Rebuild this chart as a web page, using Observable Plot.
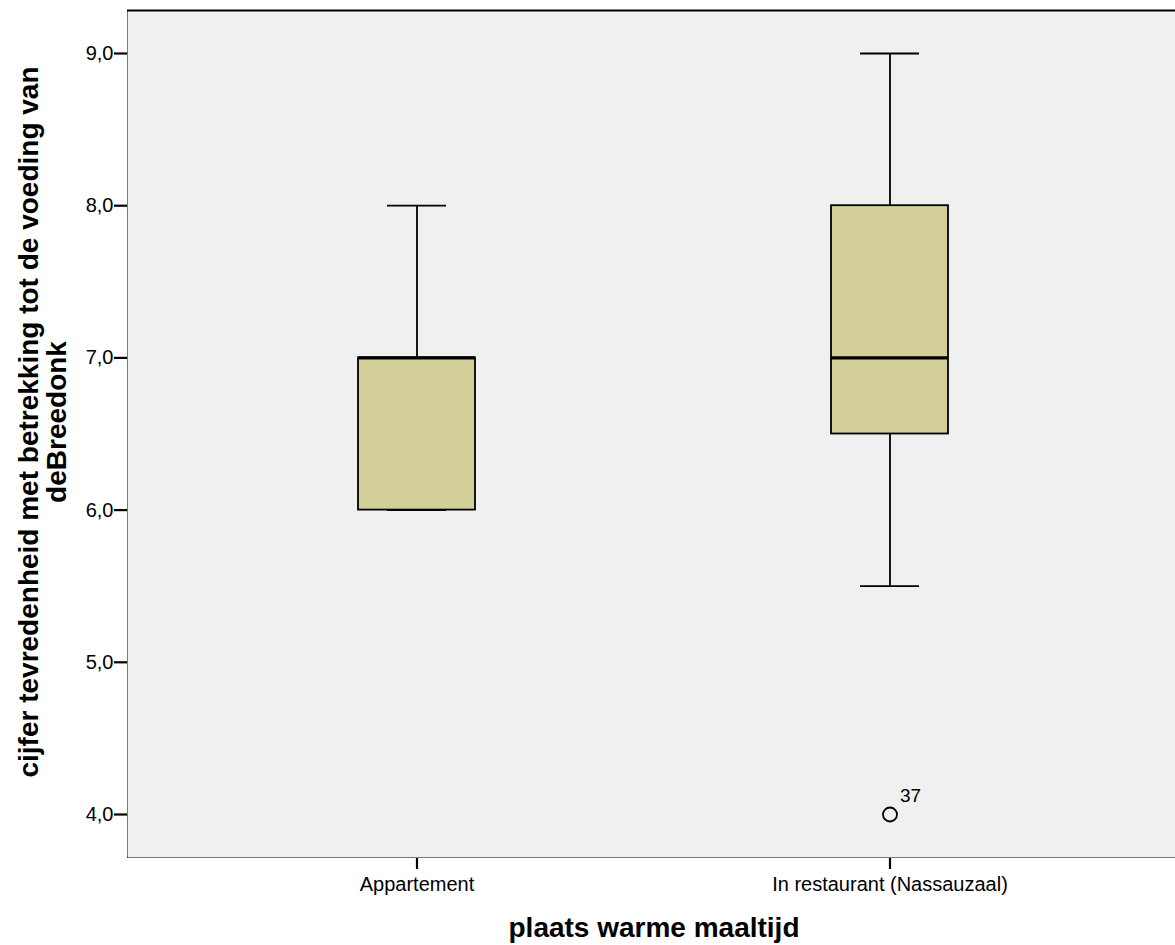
<!DOCTYPE html>
<html>
<head>
<meta charset="utf-8">
<script src="https://cdn.jsdelivr.net/npm/d3@7"></script>
<script src="https://cdn.jsdelivr.net/npm/@observablehq/plot@0.6"></script>
<style>
  html, body { margin: 0; padding: 0; background: #ffffff; }
  #chart svg { display: block; }
</style>
</head>
<body>
<div id="chart"></div>
<script>
// ---- data ----
const categories = ["Appartement", "In restaurant (Nassauzaal)"];
const whiskerLow  = [6.0, 5.5];
const quartile1   = [6.0, 6.5];
const medians     = [7.0, 7.0];
const quartile3   = [7.0, 8.0];
const whiskerHigh = [8.0, 9.0];
const outlierCategory = ["In restaurant (Nassauzaal)"];
const outlierValue    = [4.0];
const outlierLabel    = ["37"];
const yTicks = [4, 5, 6, 7, 8, 9];
const xTitle = "plaats warme maaltijd";
const yTitle = "cijfer tevredenheid met betrekking tot de voeding van\ndeBreedonk";

const boxes = categories.map((c, i) => ({
  cat: c, lo: whiskerLow[i], q1: quartile1[i], med: medians[i], q3: quartile3[i], hi: whiskerHigh[i]
}));
const outliers = outlierCategory.map((c, i) => ({cat: c, value: outlierValue[i], label: outlierLabel[i]}));

const fmt = d => d.toFixed(1).replace(".", ",");
const yMin = 3.7175, yMax = 9.2825;

const chart = Plot.plot({
  width: 1175,
  height: 945,
  marginLeft: 127,
  marginRight: -5,
  marginTop: 10,
  marginBottom: 88,
  style: {fontFamily: "'Liberation Sans', Arial, sans-serif", fontSize: "20px", color: "#000", background: "#fff"},
  x: {type: "band", domain: categories, paddingInner: 0.7526, paddingOuter: 0.4894, label: null,
      tickSize: 12, tickPadding: 7, line: true},
  y: {domain: [yMin, yMax], ticks: yTicks, tickFormat: fmt, tickSize: 13, tickPadding: 1, label: null, line: true},
  marks: [
    Plot.frame({fill: "#f0f0f0", stroke: null}),
    Plot.ruleY([yMax], {stroke: "#000", strokeWidth: 2.2}),
    // whiskers
    Plot.ruleX(boxes, {x: "cat", y1: "lo", y2: "q1", stroke: "#000", strokeWidth: 1.8}),
    Plot.ruleX(boxes, {x: "cat", y1: "q3", y2: "hi", stroke: "#000", strokeWidth: 1.8}),
    // whisker caps (half the box width)
    Plot.tickY(boxes, {x: "cat", y: "lo", insetLeft: 29, insetRight: 29, stroke: "#000", strokeWidth: 1.8}),
    Plot.tickY(boxes, {x: "cat", y: "hi", insetLeft: 29, insetRight: 29, stroke: "#000", strokeWidth: 1.8}),
    // box
    Plot.barY(boxes, {x: "cat", y1: "q1", y2: "q3", fill: "#d3cf98", stroke: "#000", strokeWidth: 1.8}),
    // median
    Plot.tickY(boxes, {x: "cat", y: "med", stroke: "#000", strokeWidth: 3.2}),
    // outliers
    Plot.dot(outliers, {x: "cat", y: "value", r: 7, stroke: "#000", strokeWidth: 1.8, fill: "none"}),
    Plot.text(outliers, {x: "cat", y: "value", text: "label", dx: 10, dy: -19, textAnchor: "start", fontSize: 19, fill: "#000"}),
    // axis titles
    Plot.text([yTitle], {frameAnchor: "left", textAnchor: "middle", lineAnchor: "middle", rotate: -90, dx: -84, dy: -12,
      fontSize: 28, fontWeight: "bold", lineHeight: 1.0, fill: "#000"}),
    Plot.text([xTitle], {frameAnchor: "bottom", textAnchor: "middle", lineAnchor: "middle", dy: 71,
      fontSize: 28, fontWeight: "bold", fill: "#000"})
  ]
});

// heavier axis ticks and lines, as in the original
d3.select(chart).selectAll("g[aria-label='x-axis tick'], g[aria-label='y-axis tick'], g[aria-label='x-axis'], g[aria-label='y-axis']")
  .attr("stroke-width", 2.2);
d3.select(chart).selectAll("g[aria-label='x-axis tick'] path, g[aria-label='y-axis tick'] path, g[aria-label='x-axis'] line, g[aria-label='y-axis'] line")
  .attr("stroke-width", 2.2);
d3.select(chart).selectAll("g[aria-label='x-axis line'], g[aria-label='y-axis line'], g[aria-label='x-axis line'] line, g[aria-label='y-axis line'] line")
  .attr("stroke-width", 2.2);

document.getElementById("chart").appendChild(chart);
</script>
</body>
</html>
